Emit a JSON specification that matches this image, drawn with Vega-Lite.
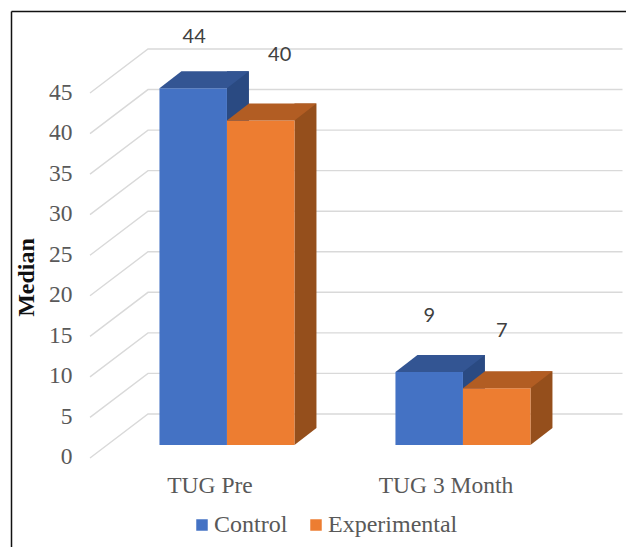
{"$schema":"https://vega.github.io/schema/vega-lite/v6.json","width":615,"height":536,"autosize":"none","padding":{"left":11,"top":11,"right":0,"bottom":0},"background":"white","config":{"view":{"stroke":null}},
"data":{"name":"bars","values":[{"category":"TUG Pre","series":"Control","value":44},{"category":"TUG Pre","series":"Experimental","value":40},{"category":"TUG 3 Month","series":"Control","value":9},{"category":"TUG 3 Month","series":"Experimental","value":7}]},
"datasets":{"ticks":[{"tick":0},{"tick":5},{"tick":10},{"tick":15},{"tick":20},{"tick":25},{"tick":30},{"tick":35},{"tick":40},{"tick":45}]},
"layer":[
{"data":{"name":"ticks"},"mark":{"type":"point","shape":"M-228.5 13 L-170.5 -31 L304 -31","size":4,"filled":false,"stroke":"#d9d9d9","strokeWidth":1.4,"opacity":1},
 "encoding":{"y":{"field":"tick","type":"quantitative","scale":{"domain":[-12.58,53.51],"nice":false,"zero":false},
 "axis":{"values":[0,5,10,15,20,25,30,35,40,45],"grid":false,"ticks":false,"tickSize":0,"domain":true,"domainColor":"#111111","domainWidth":1.5,"labelPadding":-61,"labelOffset":12,"labelFont":"Liberation Serif","labelFontSize":23.5,"labelColor":"#595959","title":"Median","titleFont":"Liberation Serif","titleFontSize":24,"titleFontWeight":"bold","titleColor":"#111111","titleX":15,"titleY":266,"titleAlign":"center","titleBaseline":"middle","titleAngle":-90}}}},
{"transform":[{"filter":"datum.series==='Control'"}],"mark":{"type":"rule","xOffset":11,"yOffset":-17,"y2Offset":-17,"strokeWidth":22,"stroke":"#2a4a82"},
 "encoding":{"x":{"field":"category","type":"nominal","sort":null,"scale":{"domain":["TUG Pre","TUG 3 Month"],"paddingInner":0,"paddingOuter":0.303,"align":0.685},"axis":{"orient":"top","labels":false,"ticks":false,"domain":true,"domainColor":"#111111","domainWidth":1.5,"title":null,"grid":false}},"y":{"field":"value","type":"quantitative","stack":null},"y2":{"datum":0}}},
{"transform":[{"filter":"datum.series==='Control'"}],"mark":{"type":"point","shape":"M33.75 0 L33.75 -17 L55.75 -17 Z","size":4,"filled":true,"fill":"#2a4a82","opacity":1},
 "encoding":{"x":{"field":"category","type":"nominal","sort":null,"axis":null},"xOffset":{"field":"series","scale":{"domain":["Control","Experimental"],"paddingInner":0,"paddingOuter":0.748}},"y":{"datum":0}}},
{"transform":[{"filter":"datum.series==='Control'"}],"mark":{"type":"bar"},
 "encoding":{"x":{"field":"category","type":"nominal","sort":null,"axis":{"orient":"bottom","labelAngle":0,"labelPadding":-62,"labelBaseline":"middle","labelOffset":-17,"labelFont":"Liberation Serif","labelFontSize":23.5,"labelColor":"#595959","domain":false,"ticks":false,"tickSize":0,"title":null,"grid":false}},"xOffset":{"field":"series"},"y":{"field":"value","type":"quantitative","stack":null},
 "color":{"field":"series","type":"nominal","scale":{"domain":["Control","Experimental"],"range":["#4472c4","#ed7d31"]},"legend":{"orient":"none","direction":"horizontal","legendX":179,"legendY":502,"title":null,"symbolType":"square","symbolSize":132,"symbolStrokeWidth":0,"labelFont":"Liberation Serif","labelFontSize":24,"labelColor":"#595959","columnPadding":16,"labelOffset":0,"padding":0}}}},
{"transform":[{"filter":"datum.series==='Control'"}],"mark":{"type":"point","shape":"M-33.75 0 L33.75 0 L55.75 -17 L-11.75 -17 Z","size":4,"filled":true,"fill":"#335593","opacity":1},
 "encoding":{"x":{"field":"category","type":"nominal","sort":null,"axis":null},"xOffset":{"field":"series"},"y":{"field":"value","type":"quantitative"}}},
{"transform":[{"filter":"datum.series==='Experimental'"}],"mark":{"type":"rule","xOffset":78.5,"yOffset":-17,"y2Offset":-17,"strokeWidth":22,"stroke":"#954f1c"},
 "encoding":{"x":{"field":"category","type":"nominal","sort":null,"axis":null},"y":{"field":"value","type":"quantitative","stack":null},"y2":{"datum":0}}},
{"transform":[{"filter":"datum.series==='Experimental'"}],"mark":{"type":"point","shape":"M33.75 0 L33.75 -17 L55.75 -17 Z","size":4,"filled":true,"fill":"#954f1c","opacity":1},
 "encoding":{"x":{"field":"category","type":"nominal","sort":null,"axis":null},"xOffset":{"field":"series"},"y":{"datum":0}}},
{"transform":[{"filter":"datum.series==='Experimental'"}],"mark":{"type":"bar"},
 "encoding":{"x":{"field":"category","type":"nominal","sort":null,"axis":null},"xOffset":{"field":"series"},"y":{"field":"value","type":"quantitative","stack":null},"color":{"field":"series","type":"nominal"}}},
{"transform":[{"filter":"datum.series==='Experimental'"}],"mark":{"type":"point","shape":"M-33.75 0 L33.75 0 L55.75 -17 L-11.75 -17 Z","size":4,"filled":true,"fill":"#b25d23","opacity":1},
 "encoding":{"x":{"field":"category","type":"nominal","sort":null,"axis":null},"xOffset":{"field":"series"},"y":{"field":"value","type":"quantitative"}}},
{"transform":[{"filter":"datum.series==='Control' && datum.value===44"}],"mark":{"type":"text","font":"Lato","fontSize":20,"color":"#404040","dx":1,"dy":-51},
 "encoding":{"x":{"field":"category","type":"nominal","sort":null,"axis":null},"xOffset":{"field":"series"},"y":{"field":"value","type":"quantitative"},"text":{"field":"value"}}},
{"transform":[{"filter":"datum.series==='Experimental' && datum.value===40"}],"mark":{"type":"text","font":"Lato","fontSize":20,"color":"#404040","dx":19,"dy":-66},
 "encoding":{"x":{"field":"category","type":"nominal","sort":null,"axis":null},"xOffset":{"field":"series"},"y":{"field":"value","type":"quantitative"},"text":{"field":"value"}}},
{"transform":[{"filter":"datum.series==='Control' && datum.value===9"}],"mark":{"type":"text","font":"Lato","fontSize":20,"color":"#404040","dx":0,"dy":-56},
 "encoding":{"x":{"field":"category","type":"nominal","sort":null,"axis":null},"xOffset":{"field":"series"},"y":{"field":"value","type":"quantitative"},"text":{"field":"value"}}},
{"transform":[{"filter":"datum.series==='Experimental' && datum.value===7"}],"mark":{"type":"text","font":"Lato","fontSize":20,"color":"#404040","dx":5,"dy":-57},
 "encoding":{"x":{"field":"category","type":"nominal","sort":null,"axis":null},"xOffset":{"field":"series"},"y":{"field":"value","type":"quantitative"},"text":{"field":"value"}}}
]}
